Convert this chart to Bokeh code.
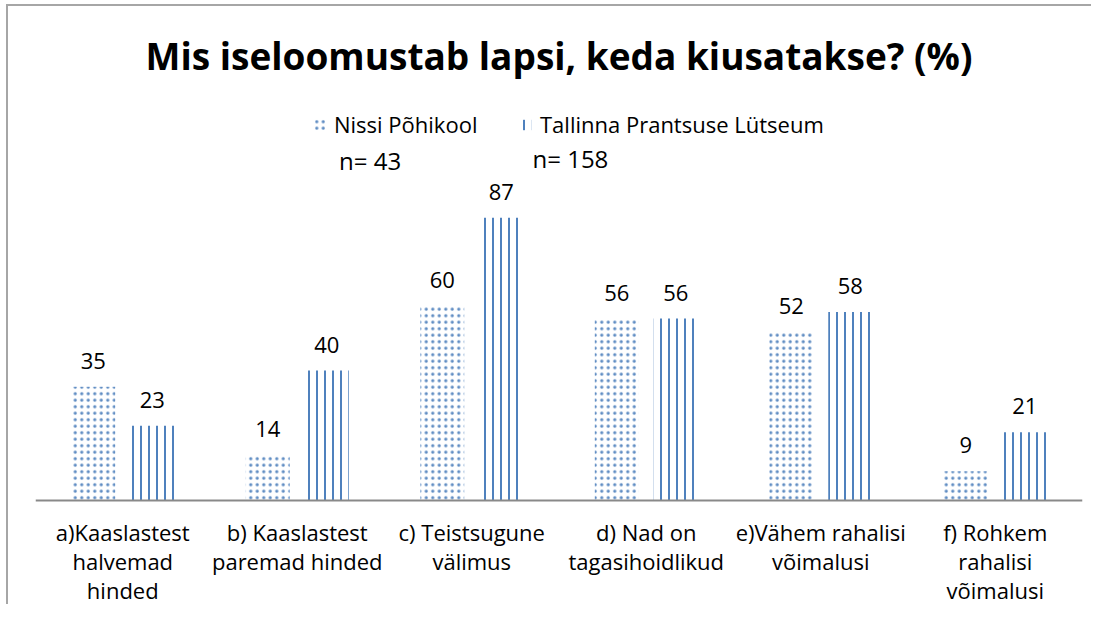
from bokeh.plotting import figure
from bokeh.models import ColumnDataSource, FactorRange, Range1d, Span, Label, Legend, LegendItem
from bokeh.transform import dodge
from bokeh.core.properties import value
from bokeh.embed import file_html
from bokeh.resources import INLINE

# ---------------- data ----------------
title_text = "Mis iseloomustab lapsi, keda kiusatakse? (%)"
categories = [
    "a)Kaaslastest\nhalvemad\nhinded",
    "b) Kaaslastest\nparemad hinded",
    "c) Teistsugune\nvälimus",
    "d) Nad on\ntagasihoidlikud",
    "e)Vähem rahalisi\nvõimalusi",
    "f) Rohkem\nrahalisi\nvõimalusi",
]
series_names = ["Nissi Põhikool", "Tallinna Prantsuse Lütseum"]
nissi = [35, 14, 60, 56, 52, 9]
tallinn = [23, 40, 87, 56, 58, 21]
sample_sizes = [43, 158]

# ---------------- styling / layout ----------------
PX = 3.25            # pixels per percent
BLUE = "#4F81BD"
FONT = "Open Sans"
OFF = 0.169          # dodge of each bar from category centre
BW = 0.252           # bar width (category units)
W, H = 1091, 604
BASE = 500           # canvas y of the zero line

p = figure(
    width=W, height=H,
    x_range=FactorRange(*categories, range_padding=0),
    y_range=Range1d(-(H - BASE) / PX, BASE / PX),
    x_axis_location=None, y_axis_location=None,
    output_backend="svg", toolbar_location=None,
    min_border_left=35, min_border_right=W - 35 - 1047, min_border_top=0, min_border_bottom=0,
)
p.xgrid.grid_line_color = None
p.ygrid.grid_line_color = None
p.outline_line_color = None
p.background_fill_color = None
p.border_fill_color = None
p.styles = {
    "background-color": "#ffffff",
    "background-image": "linear-gradient(#a6a6a6, #a6a6a6), linear-gradient(#a6a6a6, #a6a6a6)",
    "background-size": "2px 100%, 100% 2px",
    "background-position": "6px 4px, 6px 4px",
    "background-repeat": "no-repeat",
}

src = ColumnDataSource(dict(
    cat=categories,
    nissi=nissi,
    tallinn=tallinn,
    nissi_txt=[str(v) for v in nissi],
    tallinn_txt=[str(v) for v in tallinn],
))

r1 = p.vbar(x=dodge("cat", -OFF, range=p.x_range), top="nissi", width=BW, source=src,
            fill_color=None, line_color=None,
            hatch_pattern=".", hatch_color=BLUE, hatch_scale=6.5, hatch_weight=0.6,
            hatch_alpha=0.9)
r2 = p.vbar(x=dodge("cat", OFF, range=p.x_range), top="tallinn", width=BW, source=src,
            fill_color=None, line_color=None,
            hatch_pattern="|", hatch_color=BLUE, hatch_scale=8, hatch_weight=2)

# baseline (category axis line)
p.add_layout(Span(location=0, dimension="width", line_color="#898989", line_width=2))

# value labels
common = dict(text_font=value(FONT), text_font_size="22px", text_color="#000000",
              text_align="center", text_baseline="middle")
p.text(x=dodge("cat", -OFF, range=p.x_range), y=dodge("nissi", 26 / PX), text="nissi_txt",
       source=src, **common)
p.text(x=dodge("cat", OFF, range=p.x_range), y=dodge("tallinn", 26 / PX), text="tallinn_txt",
       source=src, **common)

# category labels (multi-line, one text renderer per line index)
split = [c.split("\n") for c in categories]
nlines = max(len(s) for s in split)
for k in range(nlines):
    xs = [c for c, s in zip(categories, split) if len(s) > k]
    ts = [s[k] for s in split if len(s) > k]
    p.text(x=xs, y=[-(31 + 29 * k) / PX] * len(xs), text=ts, **common)

# title
p.add_layout(Label(x=3, y=(BASE - 55) / PX, text=title_text, text_align="center",
                   text_baseline="middle", text_font=FONT, text_font_size="37px",
                   text_font_style="bold", text_color="#000000"))

# sample sizes
p.add_layout(Label(x=(338.5 - 35) / 174.5, y=(BASE - 159.5) / PX, text=f"n= {sample_sizes[0]}",
                   text_baseline="middle", text_font=FONT, text_font_size="24px",
                   text_color="#000000"))
p.add_layout(Label(x=(532 - 35) / 174.5, y=(BASE - 157.5) / PX, text=f"n= {sample_sizes[1]}",
                   text_baseline="middle", text_font=FONT, text_font_size="24px",
                   text_color="#000000"))

legend = Legend(
    items=[LegendItem(label=series_names[0], renderers=[r1]),
           LegendItem(label=series_names[1], renderers=[r2])],
    orientation="horizontal", location=(278, 465),
    padding=0, margin=0, spacing=25, label_width=160,
    glyph_width=13, glyph_height=13, label_height=30, label_standoff=8,
    border_line_color=None, background_fill_alpha=0,
    label_text_font=FONT, label_text_font_size="22px", label_text_color="#000000",
)
p.add_layout(legend)

open("out.html", "w").write(file_html(p, INLINE))
